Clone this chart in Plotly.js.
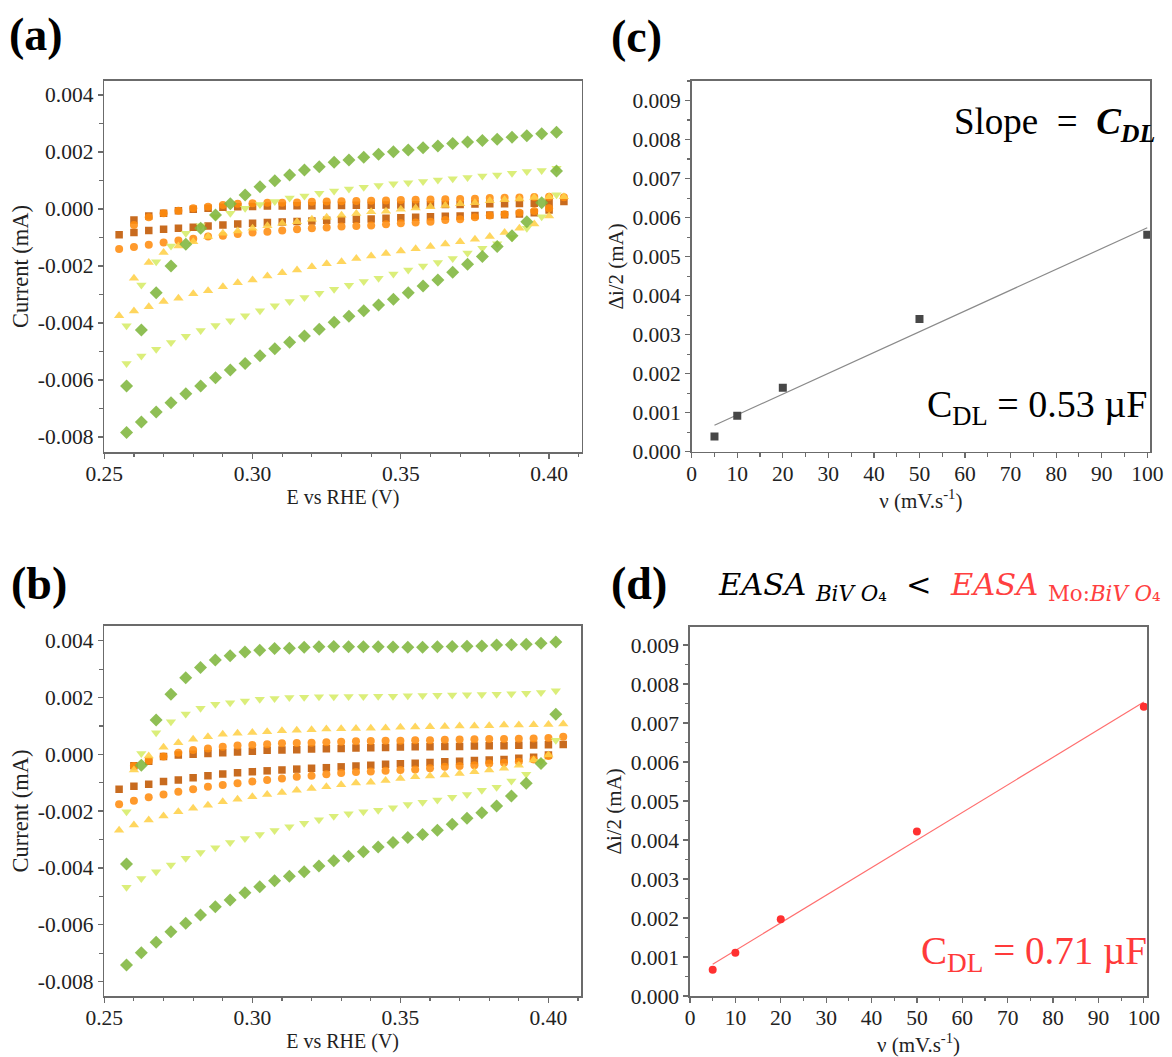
<!DOCTYPE html>
<html>
<head>
<meta charset="utf-8">
<script src="https://cdn.plot.ly/plotly-3.0.1.min.js"></script>
<style>html,body{margin:0;padding:0;background:#fff;}#chart{width:1172px;height:1057px;}</style>
</head>
<body>
<div id="chart"></div>
<script>
// ---------- potential grids (V vs RHE) ----------
const E_A = [0.2550,0.2600,0.2650,0.2700,0.2750,0.2800,0.2850,0.2900,0.2950,0.3000,0.3050,0.3100,0.3150,0.3200,0.3250,0.3300,0.3350,0.3400,0.3450,0.3500,0.3550,0.3600,0.3650,0.3700,0.3750,0.3800,0.3850,0.3900,0.3950,0.4000,0.4050];
const E_B = [0.2575,0.2625,0.2675,0.2725,0.2775,0.2825,0.2875,0.2925,0.2975,0.3025,0.3075,0.3125,0.3175,0.3225,0.3275,0.3325,0.3375,0.3425,0.3475,0.3525,0.3575,0.3625,0.3675,0.3725,0.3775,0.3825,0.3875,0.3925,0.3975,0.4025];

// ---------- panel (a) currents (mA): forward / reverse scans ----------
const a5_fwd  = [-0.00091,-0.00039,-0.00025,-0.00015,-0.00006,-0.00001,0.00002,0.00006,0.00008,0.00009,0.00010,0.00010,0.00011,0.00011,0.00012,0.00012,0.00013,0.00013,0.00014,0.00014,0.00015,0.00015,0.00016,0.00016,0.00017,0.00018,0.00018,0.00019,0.00020,0.00022,0.00026];
const a5_rev  = [null,-0.00083,-0.00076,-0.00071,-0.00068,-0.00064,-0.00060,-0.00056,-0.00053,-0.00050,-0.00048,-0.00046,-0.00044,-0.00042,-0.00040,-0.00038,-0.00036,-0.00035,-0.00033,-0.00031,-0.00029,-0.00027,-0.00026,-0.00025,-0.00023,-0.00021,-0.00020,-0.00018,-0.00013,-0.00004,null];
const a10_fwd = [-0.00141,-0.00056,-0.00029,-0.00015,-0.00006,0.00002,0.00008,0.00014,0.00018,0.00020,0.00022,0.00022,0.00023,0.00025,0.00026,0.00027,0.00028,0.00029,0.00030,0.00031,0.00032,0.00033,0.00034,0.00035,0.00036,0.00038,0.00039,0.00040,0.00042,0.00043,0.00041];
const a10_rev = [null,-0.00134,-0.00126,-0.00118,-0.00111,-0.00105,-0.00097,-0.00094,-0.00088,-0.00083,-0.00080,-0.00076,-0.00071,-0.00068,-0.00065,-0.00062,-0.00060,-0.00058,-0.00054,-0.00050,-0.00048,-0.00045,-0.00039,-0.00036,-0.00029,-0.00023,-0.00019,-0.00013,-0.00007,0.00002,null];
const a20_fwd = [null,-0.00243,-0.00188,-0.00153,-0.00130,-0.00115,-0.00097,-0.00085,-0.00077,-0.00068,-0.00059,-0.00050,-0.00045,-0.00036,-0.00029,-0.00022,-0.00016,-0.00010,-0.00008,-0.00001,0.00003,0.00008,0.00012,0.00018,0.00022,0.00029,0.00032,0.00035,0.00040,0.00043,0.00043];
const a20_rev = [-0.00375,-0.00358,-0.00343,-0.00325,-0.00313,-0.00298,-0.00287,-0.00273,-0.00259,-0.00249,-0.00235,-0.00224,-0.00214,-0.00203,-0.00192,-0.00185,-0.00174,-0.00165,-0.00156,-0.00148,-0.00140,-0.00132,-0.00123,-0.00115,-0.00106,-0.00097,-0.00083,-0.00068,-0.00053,-0.00025,null];
const a50_fwd = [-0.00410,-0.00267,-0.00185,-0.00130,-0.00085,-0.00059,-0.00027,-0.00015,0.00002,0.00016,0.00026,0.00038,0.00045,0.00055,0.00063,0.00070,0.00076,0.00082,0.00088,0.00092,0.00096,0.00102,0.00106,0.00110,0.00116,0.00119,0.00125,0.00131,0.00135,0.00143];
const a50_rev = [-0.00542,-0.00516,-0.00492,-0.00469,-0.00447,-0.00427,-0.00409,-0.00392,-0.00375,-0.00357,-0.00340,-0.00325,-0.00311,-0.00296,-0.00282,-0.00268,-0.00255,-0.00243,-0.00228,-0.00214,-0.00200,-0.00188,-0.00174,-0.00155,-0.00138,-0.00122,-0.00100,-0.00068,-0.00027,0.00050];
const a100_fwd = [-0.00621,-0.00425,-0.00294,-0.00200,-0.00124,-0.00068,-0.00021,0.00018,0.00049,0.00078,0.00099,0.00119,0.00137,0.00148,0.00164,0.00172,0.00181,0.00192,0.00201,0.00207,0.00215,0.00221,0.00230,0.00235,0.00240,0.00245,0.00252,0.00257,0.00264,0.00269];
const a100_rev = [-0.00785,-0.00748,-0.00713,-0.00680,-0.00649,-0.00621,-0.00592,-0.00565,-0.00542,-0.00515,-0.00491,-0.00468,-0.00446,-0.00422,-0.00398,-0.00377,-0.00357,-0.00337,-0.00317,-0.00294,-0.00270,-0.00249,-0.00222,-0.00194,-0.00167,-0.00132,-0.00094,-0.00045,0.00022,0.00133];

// ---------- panel (b) currents (mA) ----------
const b5_fwd  = [null,-0.00040,-0.00024,-0.00008,-0.00002,0.00000,0.00003,0.00006,0.00008,0.00011,0.00014,0.00015,0.00016,0.00019,0.00020,0.00021,0.00022,0.00023,0.00024,0.00026,0.00027,0.00027,0.00028,0.00028,0.00029,0.00030,0.00030,0.00032,0.00033,0.00034,0.00035];
const b5_rev  = [-0.00123,-0.00112,-0.00105,-0.00096,-0.00090,-0.00082,-0.00075,-0.00069,-0.00065,-0.00061,-0.00058,-0.00055,-0.00052,-0.00049,-0.00047,-0.00044,-0.00041,-0.00038,-0.00035,-0.00033,-0.00031,-0.00029,-0.00026,-0.00024,-0.00022,-0.00020,-0.00018,-0.00014,-0.00010,-0.00002,null];
const b10_fwd = [null,-0.00041,-0.00022,-0.00008,0.00006,0.00015,0.00021,0.00027,0.00031,0.00033,0.00036,0.00039,0.00040,0.00041,0.00043,0.00044,0.00046,0.00047,0.00048,0.00048,0.00050,0.00050,0.00051,0.00052,0.00053,0.00054,0.00054,0.00055,0.00056,0.00058,0.00062];
const b10_rev = [-0.00176,-0.00163,-0.00151,-0.00141,-0.00132,-0.00123,-0.00114,-0.00108,-0.00102,-0.00096,-0.00090,-0.00085,-0.00079,-0.00075,-0.00070,-0.00066,-0.00062,-0.00060,-0.00058,-0.00055,-0.00053,-0.00049,-0.00044,-0.00041,-0.00038,-0.00032,-0.00030,-0.00026,-0.00018,-0.00006,null];
const b20_fwd = [null,-0.00055,-0.00006,0.00025,0.00041,0.00053,0.00062,0.00071,0.00074,0.00077,0.00080,0.00083,0.00085,0.00087,0.00089,0.00090,0.00091,0.00092,0.00093,0.00095,0.00096,0.00097,0.00098,0.00100,0.00100,0.00101,0.00103,0.00103,0.00104,0.00105,0.00107];
const b20_rev = [-0.00267,-0.00249,-0.00231,-0.00217,-0.00202,-0.00190,-0.00179,-0.00167,-0.00158,-0.00149,-0.00141,-0.00134,-0.00126,-0.00120,-0.00114,-0.00107,-0.00101,-0.00098,-0.00092,-0.00085,-0.00079,-0.00076,-0.00073,-0.00067,-0.00061,-0.00055,-0.00049,-0.00038,-0.00020,-0.00002,null];
const b50_fwd = [-0.00202,0.00003,0.00076,0.00115,0.00142,0.00162,0.00176,0.00182,0.00188,0.00194,0.00197,0.00200,0.00201,0.00203,0.00203,0.00204,0.00204,0.00205,0.00205,0.00206,0.00207,0.00208,0.00209,0.00210,0.00211,0.00212,0.00213,0.00215,0.00218,0.00224];
const b50_rev = [-0.00468,-0.00437,-0.00413,-0.00390,-0.00366,-0.00346,-0.00329,-0.00310,-0.00296,-0.00282,-0.00268,-0.00255,-0.00243,-0.00230,-0.00218,-0.00209,-0.00202,-0.00197,-0.00188,-0.00177,-0.00169,-0.00161,-0.00151,-0.00141,-0.00126,-0.00116,-0.00094,-0.00070,-0.00025,0.00050];
const b100_fwd = [-0.00386,-0.00038,0.00121,0.00212,0.00270,0.00306,0.00332,0.00347,0.00360,0.00367,0.00373,0.00374,0.00377,0.00379,0.00380,0.00379,0.00379,0.00379,0.00378,0.00377,0.00377,0.00379,0.00380,0.00381,0.00382,0.00385,0.00386,0.00388,0.00391,0.00396];
const b100_rev = [-0.00742,-0.00699,-0.00662,-0.00625,-0.00595,-0.00566,-0.00537,-0.00513,-0.00487,-0.00466,-0.00445,-0.00429,-0.00413,-0.00393,-0.00375,-0.00359,-0.00343,-0.00326,-0.00310,-0.00293,-0.00282,-0.00267,-0.00246,-0.00225,-0.00206,-0.00182,-0.00147,-0.00102,-0.00032,0.00141];

// ---------- panels (c), (d): half current difference vs scan rate ----------
const scanRates = [5, 10, 20, 50, 100];
const c_di2 = [0.00039, 0.00092, 0.00164, 0.00340, 0.00556];
const d_di2 = [0.00067, 0.00111, 0.00197, 0.00422, 0.00742];

// ---------- tick labels ----------
const cvXTicks = [0.25, 0.30, 0.35, 0.40];
const cvXTickText = ['0.25', '0.30', '0.35', '0.40'];
const cvYTicks = [0.004, 0.002, 0.000, -0.002, -0.004, -0.006, -0.008];
const cvYTickText = ['0.004', '0.002', '0.000', '-0.002', '-0.004', '-0.006', '-0.008'];
const rateXTicks = [0, 10, 20, 30, 40, 50, 60, 70, 80, 90, 100];
const rateYTicks = [0, 0.001, 0.002, 0.003, 0.004, 0.005, 0.006, 0.007, 0.008, 0.009];
const rateYTickText = ['0.000','0.001','0.002','0.003','0.004','0.005','0.006','0.007','0.008','0.009'];

// ---------- styles ----------
const series = [
  {grid: E_A, sym: 'square',        size: 7.5, color: 'rgb(192,86,0)'},
  {grid: E_A, sym: 'circle',        size: 8,   color: 'rgb(255,140,15)'},
  {grid: E_A, sym: 'triangle-up',   size: 9,   color: 'rgb(255,208,72)'},
  {grid: E_B, sym: 'triangle-down', size: 9,   color: 'rgb(214,236,104)'},
  {grid: E_B, sym: 'diamond',       size: 10,  color: 'rgb(128,182,62)'}
];
const panelA = [[a5_fwd,a5_rev],[a10_fwd,a10_rev],[a20_fwd,a20_rev],[a50_fwd,a50_rev],[a100_fwd,a100_rev]];
const panelB = [[b5_fwd,b5_rev],[b10_fwd,b10_rev],[b20_fwd,b20_rev],[b50_fwd,b50_rev],[b100_fwd,b100_rev]];
const rateNames = ['5 mV/s','10 mV/s','20 mV/s','50 mV/s','100 mV/s'];

const traces = [];
function addCV(panel, xa, ya) {
  panel.forEach((pair, i) => {
    const s = series[i];
    traces.push({
      type: 'scatter', mode: 'markers', name: rateNames[i],
      x: s.grid.concat(s.grid), y: pair[0].concat(pair[1]),
      xaxis: xa, yaxis: ya,
      marker: {symbol: s.sym, size: s.size, color: s.color, opacity: 0.88, line: {width: 0}}
    });
  });
}
addCV(panelA, 'x', 'y');
addCV(panelB, 'x2', 'y2');

function linfit(xs, ys) {
  const n = xs.length;
  const mx = xs.reduce((a, b) => a + b, 0) / n;
  const my = ys.reduce((a, b) => a + b, 0) / n;
  let sxy = 0, sxx = 0;
  for (let i = 0; i < n; i++) { sxy += (xs[i] - mx) * (ys[i] - my); sxx += (xs[i] - mx) ** 2; }
  const m = sxy / sxx;
  return {m: m, b: my - m * mx};
}
function addRate(ys, xa, ya, mcolor, lcolor, sym) {
  const f = linfit(scanRates, ys);
  const x0 = Math.min(...scanRates), x1 = Math.max(...scanRates);
  traces.push({type: 'scatter', mode: 'lines', x: [x0, x1], y: [f.m * x0 + f.b, f.m * x1 + f.b],
    xaxis: xa, yaxis: ya, line: {color: lcolor, width: 1.2}, hoverinfo: 'skip'});
  traces.push({type: 'scatter', mode: 'markers', x: scanRates, y: ys, xaxis: xa, yaxis: ya,
    marker: {symbol: sym, size: 8, color: mcolor}});
}
addRate(c_di2, 'x3', 'y3', '#474747', '#8a8a8a', 'square');
addRate(d_di2, 'x4', 'y4', '#ff3030', '#ff6f6f', 'circle');

const FONT = 'Liberation Serif';
const tickFont = {family: FONT, size: 21.5, color: '#222'};
function axisBase() {
  return {showline: true, mirror: true, linecolor: '#6b6b6b', linewidth: 1.6,
    ticks: 'outside', ticklen: 5, tickwidth: 1.3, tickcolor: '#6b6b6b',
    showgrid: false, zeroline: false, tickfont: tickFont, automargin: false};
}
function cvX(domain, anchor) {
  return Object.assign(axisBase(), {domain: domain, anchor: anchor, range: [0.25, 0.411],
    tickmode: 'array', tickvals: cvXTicks, ticktext: cvXTickText, ticklabelstandoff: -3,
    minor: {tick0: 0.25, dtick: 0.01, ticks: 'outside', ticklen: 3.5, tickcolor: '#6b6b6b', tickwidth: 1.1, showgrid: false},
    title: {text: 'E vs RHE (V)', font: {family: FONT, size: 20, color: '#222'}, standoff: 0}});
}
function cvY(domain, anchor, range) {
  return Object.assign(axisBase(), {domain: domain, anchor: anchor, range: range,
    tickmode: 'array', tickvals: cvYTicks, ticktext: cvYTickText,
    minor: {tick0: 0, dtick: 0.001, ticks: 'outside', ticklen: 3.5, tickcolor: '#6b6b6b', tickwidth: 1.1, showgrid: false},
    title: {text: 'Current (mA)', font: {family: FONT, size: 22.5, color: '#222'}, standoff: 3}});
}
function rateX(domain, anchor, range) {
  return Object.assign(axisBase(), {domain: domain, anchor: anchor, range: range,
    tickmode: 'array', tickvals: rateXTicks, ticklabelstandoff: -3,
    minor: {tick0: 0, dtick: 5, ticks: 'outside', ticklen: 3.5, tickcolor: '#6b6b6b', tickwidth: 1.1, showgrid: false},
    title: {text: 'ν (mV.s<sup>-1</sup>)', font: {family: FONT, size: 21, color: '#222'}, standoff: 0}});
}
function rateY(domain, anchor, range) {
  return Object.assign(axisBase(), {domain: domain, anchor: anchor, range: range,
    tickmode: 'array', tickvals: rateYTicks, ticktext: rateYTickText,
    minor: {tick0: 0, dtick: 0.0005, ticks: 'outside', ticklen: 3.5, tickcolor: '#6b6b6b', tickwidth: 1.1, showgrid: false},
    title: {text: 'Δi/2 (mA)', font: {family: FONT, size: 21, color: '#222'}, standoff: 3}});
}

const W = 1172, H = 1057;
const px = v => v / W, py = v => 1 - v / H;

const layout = {
  width: W, height: H, margin: {l: 0, r: 0, t: 0, b: 0},
  paper_bgcolor: '#fff', plot_bgcolor: '#fff', showlegend: false,
  xaxis:  cvX([px(104.3), px(581.7)], 'y'),
  yaxis:  cvY([py(452), py(81)], 'x', [-0.00853, 0.00449]),
  xaxis2: cvX([px(104.3), px(581)], 'y2'),
  yaxis2: cvY([py(996), py(626)], 'x2', [-0.00851, 0.00452]),
  xaxis3: rateX([px(691.7), px(1150)], 'y3', [0, 100.6]),
  yaxis3: rateY([py(451.7), py(81)], 'x3', [0, 0.0095]),
  xaxis4: rateX([px(690), px(1147)], 'y4', [0, 100.7]),
  yaxis4: rateY([py(996), py(626.7)], 'x4', [0, 0.00947]),
  annotations: [
    {text: '<b>(a)</b>', x: px(7), y: py(35), xref: 'paper', yref: 'paper', xanchor: 'left', yanchor: 'middle', showarrow: false, font: {family: FONT, size: 46, color: '#000'}},
    {text: '<b>(b)</b>', x: px(9), y: py(583), xref: 'paper', yref: 'paper', xanchor: 'left', yanchor: 'middle', showarrow: false, font: {family: FONT, size: 46, color: '#000'}},
    {text: '<b>(c)</b>', x: px(609), y: py(36), xref: 'paper', yref: 'paper', xanchor: 'left', yanchor: 'middle', showarrow: false, font: {family: FONT, size: 46, color: '#000'}},
    {text: '<b>(d)</b>', x: px(609), y: py(583), xref: 'paper', yref: 'paper', xanchor: 'left', yanchor: 'middle', showarrow: false, font: {family: FONT, size: 46, color: '#000'}},
    {text: 'Slope  =  <b><i>C</i></b><sub><b><i>DL</i></b></sub>', x: px(1157), y: py(124), xref: 'paper', yref: 'paper', xanchor: 'right', yanchor: 'middle', showarrow: false, font: {family: FONT, size: 37, color: '#000'}},
    {text: 'C<sub>DL</sub> = 0.53 µF', x: px(1149), y: py(407), xref: 'paper', yref: 'paper', xanchor: 'right', yanchor: 'middle', showarrow: false, font: {family: FONT, size: 38, color: '#000'}},
    {text: 'C<sub>DL</sub> = 0.71 µF', x: px(1149), y: py(953), xref: 'paper', yref: 'paper', xanchor: 'right', yanchor: 'middle', showarrow: false, font: {family: FONT, size: 39, color: '#ff3a3a'}},
    {text: '<i>EASA</i> <sub><i>BiV O</i>₄</sub>  <  <span style="color:#ff4040"><i>EASA</i> <sub>Mo:<i>BiV O</i>₄</sub></span>', x: px(716), y: py(586), xref: 'paper', yref: 'paper', xanchor: 'left', yanchor: 'middle', showarrow: false, font: {family: 'DejaVu Serif, serif', size: 30.5, color: '#000'}}
  ]
};

Plotly.newPlot('chart', traces, layout, {staticPlot: true, displayModeBar: false});
</script>
</body>
</html>
